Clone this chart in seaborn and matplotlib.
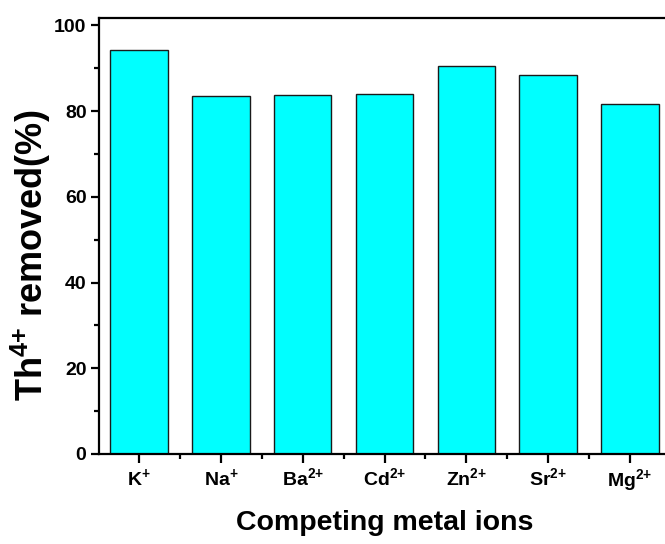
import matplotlib
matplotlib.use("Agg")
import matplotlib.pyplot as plt
from matplotlib.ticker import MultipleLocator, FixedLocator
import seaborn as sns
import pandas as pd

categories = ["K$^{+}$", "Na$^{+}$", "Ba$^{2{+}}$", "Cd$^{2{+}}$", "Zn$^{2{+}}$", "Sr$^{2{+}}$", "Mg$^{2{+}}$"]
removed = [94.2, 83.5, 83.8, 84.0, 90.5, 88.5, 81.6]

sns.set_style("white")
plt.rcParams['font.family'] = ['Liberation Sans', 'DejaVu Sans']
plt.rcParams['font.weight'] = 'bold'
plt.rcParams['mathtext.fontset'] = 'custom'
plt.rcParams['mathtext.rm'] = 'Liberation Sans:bold'
plt.rcParams['mathtext.it'] = 'Liberation Sans:bold'
plt.rcParams['mathtext.bf'] = 'Liberation Sans:bold'
plt.rcParams['mathtext.default'] = 'rm'
plt.rcParams['text.color'] = 'black'
plt.rcParams['axes.labelcolor'] = 'black'

df = pd.DataFrame({"ion": categories, "removed": removed})

fig = plt.figure(figsize=(6.65, 5.44), dpi=100)
ax = fig.add_axes([99/665, 90/544, 571/665, 436/544])

sns.barplot(data=df, x="ion", y="removed", color="#00FFFF", edgecolor="#1a1a1a",
            linewidth=1.0, width=0.7, saturation=1, ax=ax)

ax.set_xlim(-0.49, 6.49)
ax.set_ylim(0, 101.7)
ax.yaxis.set_major_locator(MultipleLocator(20))
ax.yaxis.set_minor_locator(MultipleLocator(10))
ax.xaxis.set_minor_locator(FixedLocator([i + 0.5 for i in range(-1, 7)]))

for s in ax.spines.values():
    s.set_linewidth(1.6)
    s.set_color("black")

ax.tick_params(axis='y', which='major', direction='out', length=5.5, width=1.6,
               labelsize=14, color='black', labelcolor='black', left=True)
ax.tick_params(axis='x', which='major', direction='out', length=6.5, width=1.6,
               labelsize=14, color='black', labelcolor='black', bottom=True, pad=3)
ax.tick_params(axis='both', which='minor', direction='out', length=3.5, width=1.6,
               color='black', bottom=True, left=True)
for lbl in ax.get_xticklabels() + ax.get_yticklabels():
    lbl.set_fontweight('bold')

ax.set_xlabel("Competing metal ions", fontsize=20.5, fontweight='bold', labelpad=12)
ax.set_ylabel("Th$^{4{+}}$ removed(%)", fontsize=26, fontweight='bold')
ax.yaxis.set_label_coords(-0.08, 0.455)

fig.savefig("out.png", dpi=100)
